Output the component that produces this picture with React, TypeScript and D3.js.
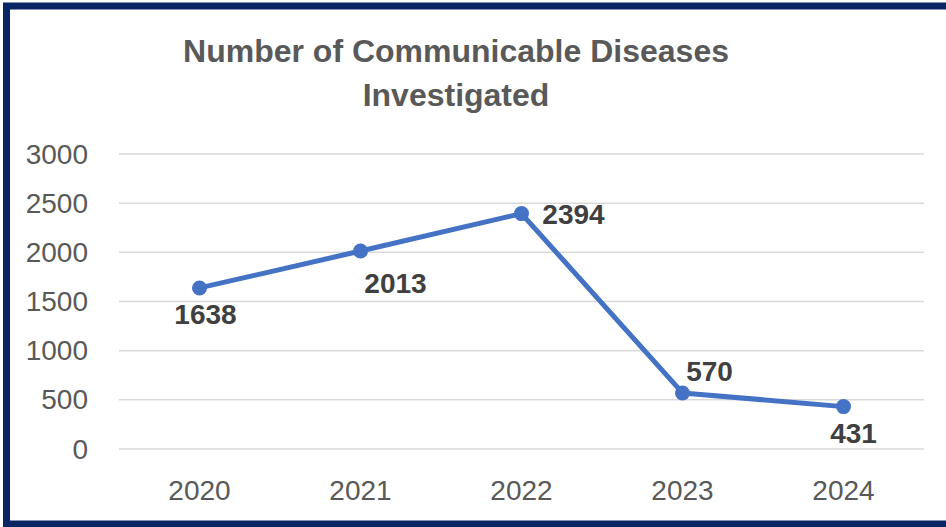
import React from "react";
import * as d3 from "d3";

const years = ["2020", "2021", "2022", "2023", "2024"];
const cases = [1638, 2013, 2394, 570, 431];
const yTicks = [0, 500, 1000, 1500, 2000, 2500, 3000];
const titleLines = ["Number of Communicable Diseases", "Investigated"];

// label placement relative to each point (style only)
const labelOffsets: [number, number][] = [
  [6, 36],
  [35, 42],
  [52, 10],
  [27, -12],
  [10, 36],
];

const W = 946;
const H = 527;
const FONT = "'Liberation Sans', Arial, sans-serif";

export default function App() {
  const x = d3.scaleBand<string>().domain(years).range([119, 924]).padding(0);
  const y = d3.scaleLinear().domain([0, 3000]).range([449, 154]);
  const cx = (d: string) => (x(d) ?? 0) + x.bandwidth() / 2;
  const line = d3
    .line<number>()
    .x((_, i) => cx(years[i]))
    .y((v) => y(v));

  return (
    <svg
      width={W}
      height={H}
      style={{ position: "fixed", left: 0, top: 0, background: "#fff" }}
      fontFamily={FONT}
    >
      <rect x={0} y={0} width={W} height={H} fill="#fff" />
      {/* border */}
      <path
        d={`M ${W + 10} 6 L 6.5 6 L 6.5 524 L ${W + 10} 524`}
        fill="none"
        stroke="#0a2563"
        strokeWidth={7}
      />
      {/* title */}
      {titleLines.map((t, i) => (
        <text
          key={t}
          x={456}
          y={62 + i * 44}
          textAnchor="middle"
          fontSize={32}
          fontWeight="bold"
          fill="#595959"
        >
          {t}
        </text>
      ))}
      {/* gridlines + y ticks */}
      {yTicks.map((t) => (
        <g key={t}>
          <line x1={119} x2={924} y1={y(t)} y2={y(t)} stroke="#d9d9d9" strokeWidth={1.5} />
          <text x={88} y={y(t) + 9.5} textAnchor="end" fontSize={28} fill="#595959">
            {t}
          </text>
        </g>
      ))}
      {/* x labels */}
      {years.map((yr) => (
        <text key={yr} x={cx(yr)} y={500} textAnchor="middle" fontSize={28} fill="#595959">
          {yr}
        </text>
      ))}
      {/* line */}
      <path d={line(cases) ?? ""} fill="none" stroke="#4472C4" strokeWidth={5} strokeLinejoin="round" />
      {cases.map((v, i) => (
        <circle key={i} cx={cx(years[i])} cy={y(v)} r={7.5} fill="#4472C4" />
      ))}
      {/* data labels */}
      {cases.map((v, i) => (
        <text
          key={"l" + i}
          x={cx(years[i]) + labelOffsets[i][0]}
          y={y(v) + labelOffsets[i][1]}
          textAnchor="middle"
          fontSize={28}
          fontWeight="bold"
          fill="#404040"
        >
          {v}
        </text>
      ))}
    </svg>
  );
}
